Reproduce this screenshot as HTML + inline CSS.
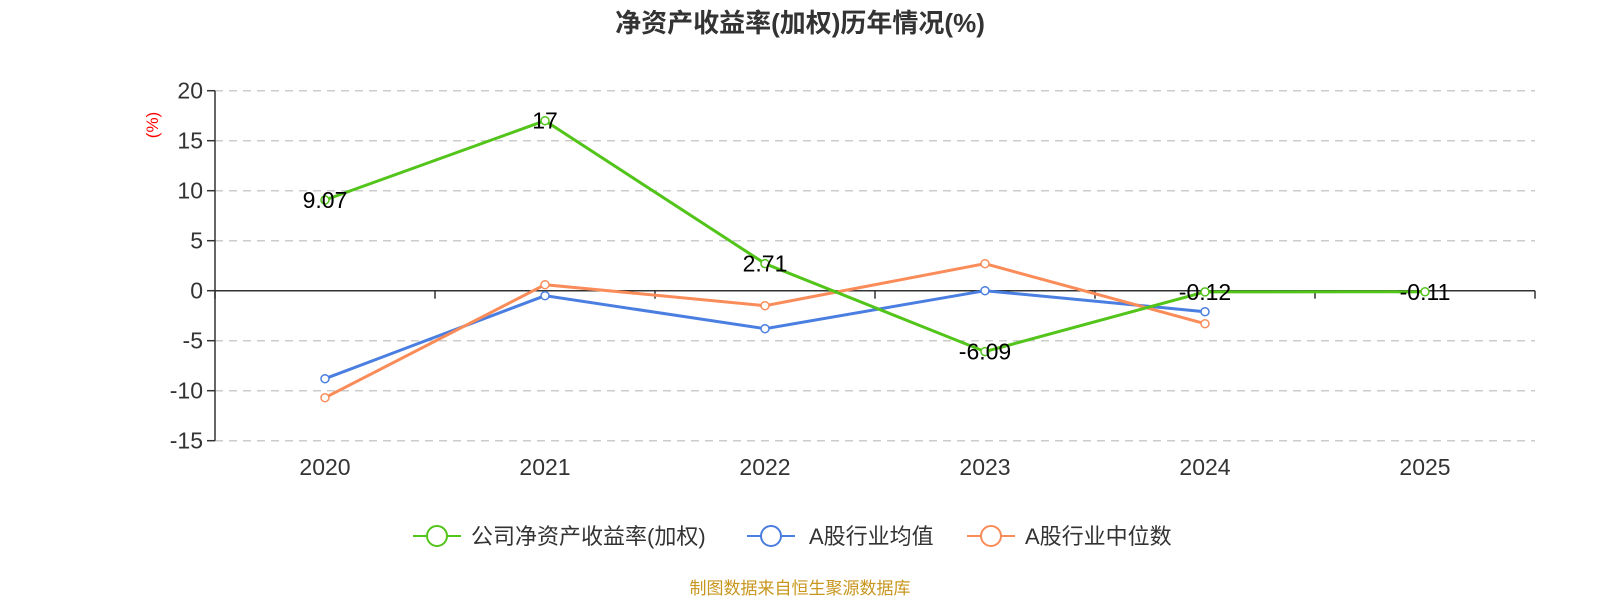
<!DOCTYPE html>
<html><head><meta charset="utf-8"><style>
body{margin:0;background:#fff;width:1600px;height:600px;overflow:hidden;font-family:"Liberation Sans","Noto Sans CJK SC",sans-serif}
</style></head><body>
<svg width="1600" height="600" id="chart" font-family="Liberation Sans, Noto Sans CJK SC, sans-serif">
<text x="800" y="32" text-anchor="middle" font-size="26" font-weight="bold" fill="#333">净资产收益率(加权)历年情况(%)</text>
<text transform="translate(158,125) rotate(-90)" text-anchor="middle" font-size="17" fill="#f00">(%)</text>
<g id="grid"></g><g id="axes"></g><g id="series"></g><g id="labels"></g>
<g>
<g><line x1="413" y1="536" x2="461" y2="536" stroke="#52c41a" stroke-width="2"/><circle cx="437" cy="536" r="10" fill="#fff" stroke="#52c41a" stroke-width="2"/><text x="471" y="544" font-size="22" fill="#333">公司净资产收益率(加权)</text></g>
<g><line x1="747" y1="536" x2="795" y2="536" stroke="#4a7ee0" stroke-width="2"/><circle cx="771" cy="536" r="10" fill="#fff" stroke="#4a7ee0" stroke-width="2"/><text x="809" y="544" font-size="22" fill="#333">A股行业均值</text></g>
<g><line x1="967" y1="536" x2="1015" y2="536" stroke="#fa8c5a" stroke-width="2"/><circle cx="991" cy="536" r="10" fill="#fff" stroke="#fa8c5a" stroke-width="2"/><text x="1025" y="544" font-size="22" fill="#333">A股行业中位数</text></g>
</g>
<text x="800" y="594" text-anchor="middle" font-size="17" fill="#c8961e">制图数据来自恒生聚源数据库</text>
</svg>
<script>
const categories=["2020","2021","2022","2023","2024","2025"];
const companyValues=[9.07,17,2.71,-6.09,-0.12,-0.11];
const meanValues=[-8.8,-0.5,-3.8,0,-2.1];
const medianValues=[-10.7,0.6,-1.5,2.7,-3.3];
const yTicks=[20,15,10,5,0,-5,-10,-15];
const NS="http://www.w3.org/2000/svg";
const x0=215,band=220,y0=290.7,pxPerUnit=10,xEnd=1535;
const xs=i=>x0+band*(i+0.5);
const ys=v=>y0-v*pxPerUnit;
function mk(tag,attrs,parent){const e=document.createElementNS(NS,tag);for(const k in attrs)e.setAttribute(k,attrs[k]);parent.appendChild(e);return e;}
const grid=document.getElementById('grid'),axes=document.getElementById('axes'),ser=document.getElementById('series'),lab=document.getElementById('labels');
yTicks.forEach(t=>{
 if(t!==0){const g=mk('line',{x1:x0,x2:xEnd,y1:ys(t),y2:ys(t),stroke:'#ccc','stroke-dasharray':'8,6','stroke-width':1.5},grid);
 
 }
 const tk=mk('line',{x1:x0-8,x2:x0,y1:ys(t),y2:ys(t),stroke:'#333','stroke-width':1.5},axes);
 
 
 const tx=mk('text',{x:x0-12,y:ys(t)+8,'text-anchor':'end','font-size':23,fill:'#333'},axes);tx.textContent=t;
 
 
});
const ya=mk('line',{x1:x0,x2:x0,y1:ys(20),y2:ys(-15),stroke:'#333','stroke-width':1.5},axes);


const xa=mk('line',{x1:x0,x2:xEnd,y1:y0,y2:y0,stroke:'#333','stroke-width':1.5},axes);


for(let i=0;i<=categories.length;i++){const t=mk('line',{x1:x0+band*i,x2:x0+band*i,y1:y0,y2:y0+8,stroke:'#333','stroke-width':1.5},axes);
 
 }
categories.forEach((c,i)=>{const t=mk('text',{x:xs(i),y:475,'text-anchor':'middle','font-size':23,fill:'#333'},axes);t.textContent=c;
 
 });
function series(vals,color,name){
 const pts=vals.map((v,i)=>xs(i)+','+ys(v)).join(' ');
 const pl=mk('polyline',{points:pts,fill:'none',stroke:color,'stroke-width':3},ser);
 
 
 vals.forEach((v,i)=>{const c=mk('circle',{cx:xs(i),cy:ys(v),r:4,fill:'#fff',stroke:color,'stroke-width':1.5},ser);
  
  });
}
series(meanValues,'#4a7ee0','industry-mean');
series(medianValues,'#fa8c5a','industry-median');
series(companyValues,'#52c41a','company');
companyValues.forEach((v,i)=>{const t=mk('text',{x:xs(i),y:ys(v)+8,'text-anchor':'middle','font-size':23,fill:'#000'},lab);t.textContent=v;
 
 });
</script>
</body></html>
